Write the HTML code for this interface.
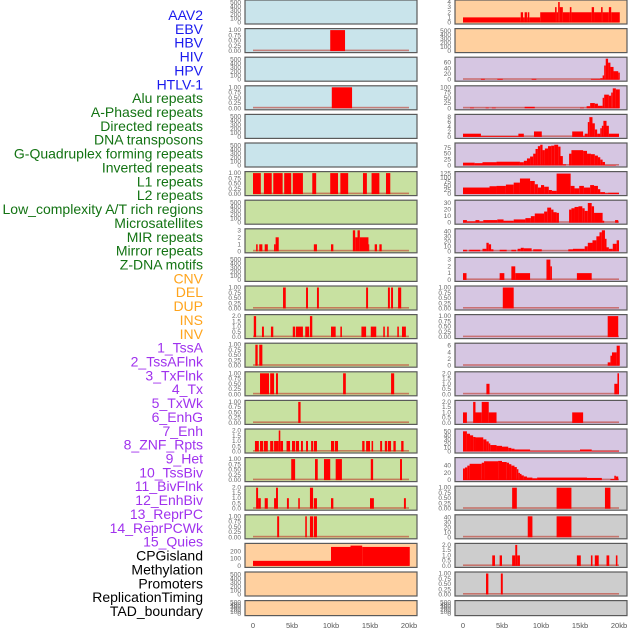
<!DOCTYPE html>
<html><head><meta charset="utf-8">
<style>
html,body{margin:0;padding:0;background:#fff;}
svg{display:block;font-family:"Liberation Sans",sans-serif;}
</style></head>
<body>
<svg id="chart" width="630" height="630" viewBox="0 0 630 630" xmlns="http://www.w3.org/2000/svg"></svg>
<script>
const trackLabels = ["AAV2","EBV","HBV","HIV","HPV","HTLV-1","Alu repeats","A-Phased repeats","Directed repeats","DNA transposons","G-Quadruplex forming repeats","Inverted repeats","L1 repeats","L2 repeats","Low_complexity A/T rich regions","Microsatellites","MIR repeats","Mirror repeats","Z-DNA motifs","CNV","DEL","DUP","INS","INV","1_TssA","2_TssAFlnk","3_TxFlnk","4_Tx","5_TxWk","6_EnhG","7_Enh","8_ZNF_Rpts","9_Het","10_TssBiv","11_BivFlnk","12_EnhBiv","13_ReprPC","14_ReprPCWk","15_Quies","CPGisland","Methylation","Promoters","ReplicationTiming","TAD_boundary"];
const labelGroups = ["virus","virus","virus","virus","virus","virus","repeat","repeat","repeat","repeat","repeat","repeat","repeat","repeat","repeat","repeat","repeat","repeat","repeat","sv","sv","sv","sv","sv","chrom","chrom","chrom","chrom","chrom","chrom","chrom","chrom","chrom","chrom","chrom","chrom","chrom","chrom","chrom","other","other","other","other","other"];
const xTickValues = [0,5,10,15,20];
const xTickLabels = ["0","5kb","10kb","15kb","20kb"];
const T500 = [0,100,200,300,400,500];
const T1 = [0,0.25,0.5,0.75,1];
const T2 = [0,0.5,1,1.5,2];
const panelYmax = [520,1,520,1,520,520,1,520,3,520,1,2,1,1,1,2,1,2,1,290,520,520,
  4.1,520,74,100,8.5,89,128,32,42,3.1,1,1,6.3,2,2,52,58,1,42,2,1,520];
const panelTicks = [T500,T1,T500,T1,T500,T500,T1,T500,[0,1,2,3],T500,T1,T2,T1,T1,T1,T2,T1,T2,T1,[0,100,200],T500,T500,
  [0,1,2,3,4],T500,[0,20,40,60],[0,25,50,75,100],[0,2,4,6,8],[0,25,50,75],[0,25,50,75,100,125],[0,10,20,30],[0,10,20,30,40],[0,1,2,3],T1,T1,[0,2,4,6],T2,T2,[0,10,20,30,40,50],[0,20,40],T1,[0,10,20,30,40],T2,T1,T500];
const panelSegments = [
 [],
 [[9.9,11.8,1]],
 [],
 [[10.1,12.7,1]],
 [],
 [],
 [[0,1.0,1],[1.4,2.4,1],[2.6,3.8,1],[4.0,4.9,1],[5.1,6.4,1],[7.6,8.1,1],[9.9,10.9,1],[11.2,12.2,1],[14.1,14.6,1],[15.2,16.2,1],[17.05,17.6,1]],
 [],
 [[0.4,0.6,1],[0.8,1.2,1],[1.5,1.9,1],[2.7,2.9,1],[2.9,3.3,2],[7.8,8.2,1],[10.0,10.3,1],[12.8,13.1,3],[13.1,13.4,2],[13.4,13.7,3],[13.7,14.8,2],[14.8,14.9,1],[15.6,15.9,1],[16.2,16.5,1]],
 [],
 [[3.85,4.2,1],[6.8,7.05,1],[8.2,8.45,1],[14.5,14.75,1],[17.3,17.55,1],[17.7,17.95,1],[18.6,19.0,1]],
 [[0.1,0.4,2],[1.15,1.4,1],[2.3,2.6,1],[5.1,5.4,1],[5.5,6.4,1],[6.7,7.2,1],[7.3,7.6,2],[10.0,10.6,1],[11.2,11.4,1],[13.9,14.5,1],[15.1,15.8,1],[16.7,16.9,1],[17.2,17.4,1],[18.5,18.7,1],[19.1,19.6,1]],
 [[0.3,0.6,1],[0.8,1.2,1]],
 [[0.9,2.05,1],[2.2,2.7,1],[2.95,3.2,1],[11.55,11.9,1],[17.7,18.1,1]],
 [[5.8,6.1,1]],
 [[0.25,0.75,1],[0.9,1.3,1],[1.4,1.9,1],[2.2,2.6,1],[2.7,3.3,1],[3.3,3.5,2],[3.5,3.85,1],[4.3,4.75,1],[5.0,5.4,1],[5.5,5.9,1],[6.15,6.4,1],[6.8,7.05,1],[7.45,7.7,1],[7.8,8.2,1],[10.0,10.4,1],[10.5,10.9,1],[14.0,14.3,1],[14.5,15.0,1],[15.2,15.4,1],[16.3,16.55,1],[16.9,17.2,1],[17.3,17.7,1],[18.0,18.3,1],[19.0,19.3,1]],
 [[4.9,5.4,1],[7.95,8.3,1],[9.1,9.9,1],[10.6,11.4,1],[15.1,15.4,1],[18.85,19.1,1]],
 [[0.4,0.65,2],[0.65,1.0,1],[1.5,1.9,1],[2.7,2.95,1],[2.95,3.2,2],[4.35,4.6,1],[5.8,6.0,1],[7.3,7.7,2],[7.8,8.2,1],[10.0,10.3,1],[15.0,15.5,1],[19.35,19.6,1]],
 [[3.1,3.35,1],[6.7,6.9,1],[7.3,7.7,1],[7.8,8.2,1]],
 [[0,10.0,70],[10.0,12.5,262],[12.5,14.0,280],[14.0,20.1,262]],
 [],
 [],
 [[0,7.4,1],[7.4,7.7,2],[7.7,7.9,1],[7.9,8.2,2],[8.2,8.3,1],[8.3,8.5,2],[8.5,9.9,1],[9.9,11.8,2],[11.8,12.0,3],[12.0,12.2,2],[12.2,12.4,4],[12.4,12.8,3],[12.8,13.7,2],[13.7,13.9,3],[13.9,16.5,2],[16.5,16.8,3],[16.8,17.7,2],[17.7,17.9,3],[17.9,18.7,2],[18.7,19.0,3],[19.0,20.1,2]],
 [],
 [[2.3,2.8,3],[4.4,5.1,3],[8.8,9.4,3],[16.4,17.6,3],[17.6,17.9,5],[17.9,18.1,15],[18.1,18.3,50],[18.3,18.6,74],[18.6,18.9,60],[18.9,19.3,45],[19.3,19.9,30],[19.9,20.1,25]],
 [[0.9,1.4,3],[2.9,3.3,3],[3.7,4.2,3],[7.9,9.2,7],[15.0,15.5,3],[15.85,16.3,10],[16.3,16.9,25],[16.9,17.3,22],[17.3,17.9,12],[17.9,18.1,50],[18.1,18.7,65],[18.7,19.0,60],[19.0,19.2,75],[19.2,19.6,95],[19.6,20.1,90]],
 [[0,2.3,1.3],[2.3,7.1,0.3],[7.1,7.8,1.3],[9.1,10.1,2.2],[14.0,15.4,2.2],[15.4,15.6,0.3],[15.6,16.0,1.3],[16.0,16.2,6],[16.2,16.6,8],[16.6,16.9,5.5],[16.9,17.2,3],[17.2,17.6,1.3],[17.6,17.8,3.5],[17.8,18.0,4.5],[18.0,18.4,6.5],[18.4,18.7,4.5],[18.7,20.0,1.3]],
 [[0,1.5,12],[1.5,2.5,10],[2.5,4.3,14],[4.3,7.3,16],[7.3,7.8,14],[7.8,8.2,20],[8.2,8.6,30],[8.6,9.0,38],[9.0,9.3,50],[9.3,9.6,70],[9.6,9.9,82],[9.9,10.2,88],[10.2,10.5,65],[10.5,10.9,72],[10.9,11.3,82],[11.3,11.7,84],[11.7,12.2,88],[12.2,12.5,80],[12.5,12.8,40],[12.8,13.2,5],[13.6,13.9,50],[13.9,15.4,65],[15.4,15.9,62],[15.9,16.4,50],[16.4,16.9,48],[16.9,17.3,42],[17.3,17.6,35],[17.6,17.9,25],[17.9,18.2,15],[18.2,19.6,2]],
 [[0,3.4,40],[3.4,4.3,48],[4.3,5.5,50],[5.5,6.5,58],[6.5,7.3,70],[7.3,8.6,95],[8.6,9.2,80],[9.2,9.6,60],[9.6,10.0,40],[10.0,10.4,55],[10.4,11.0,45],[11.0,11.4,25],[11.4,12.0,20],[12.0,13.8,125],[13.8,14.3,50],[14.3,14.9,35],[14.9,15.5,50],[15.5,16.3,40],[16.3,16.8,55],[16.8,17.3,50],[17.3,17.6,30],[17.6,18.2,12],[18.2,18.6,5],[18.6,20.0,8]],
 [[0,0.5,4],[0.5,1.6,2],[1.6,2.1,4],[2.1,2.6,2],[2.6,4.4,4],[4.4,5.2,5],[5.2,6.5,3],[6.5,8.0,5],[8.0,8.7,7],[8.7,9.2,10],[9.2,10.4,14],[10.4,10.8,17],[10.8,11.3,23],[11.3,11.6,20],[11.6,12.0,16],[12.0,12.3,15],[13.6,13.9,20],[13.9,14.3,22],[14.3,14.8,24],[14.8,15.3,25],[15.3,15.6,22],[15.6,16.0,18],[16.0,16.5,30],[16.5,16.8,25],[16.8,17.9,15],[17.9,18.1,3],[19.5,19.9,4]],
 [[0,0.5,3],[0.8,2.2,3],[2.5,3.0,5],[3.0,3.3,17],[3.3,3.6,14],[3.6,3.9,4],[4.7,5.6,3],[6.2,6.8,3],[7.0,7.4,5],[7.4,7.8,7],[7.8,8.8,6],[9.0,10.1,4],[13.5,14.1,4],[14.1,15.6,5],[15.6,16.0,10],[16.0,16.6,17],[16.6,17.1,22],[17.1,17.5,30],[17.5,17.8,38],[17.8,18.2,42],[18.2,18.4,25],[18.4,18.7,8],[18.7,19.2,5],[19.2,19.7,15],[19.7,20.0,22]],
 [[0,0.45,1],[4.7,5.3,1],[6.2,6.7,2],[6.7,8.6,1],[10.7,11.2,3],[11.2,11.4,2],[14.6,16.5,1]],
 [[5.1,6.5,1]],
 [[18.55,19.9,1]],
 [[18.55,18.9,1],[18.9,19.1,3],[19.1,19.7,4],[19.7,20.1,6]],
 [[3.0,3.4,1],[19.4,19.8,1],[19.8,20.0,2]],
 [[0,0.5,1],[1.3,1.6,2],[1.6,2.4,1],[2.4,3.3,2],[3.3,4.3,1],[14.0,15.4,1]],
 [[0,0.5,50],[0.5,0.9,44],[0.9,1.3,40],[1.3,1.6,36],[1.6,2.6,35],[2.6,3.0,30],[3.0,3.3,25],[3.3,3.5,20],[3.5,4.3,16],[4.3,5.0,14],[5.0,5.8,12],[5.8,6.2,9],[6.2,6.6,7],[6.6,8.6,5],[8.6,15.0,1],[15.0,16.5,5],[16.5,20.0,1]],
 [[0,0.25,32],[0.25,0.55,35],[0.55,0.85,40],[0.85,2.4,45],[2.4,2.7,48],[2.7,4.5,52],[4.5,5.0,53],[5.0,5.6,50],[5.6,5.9,48],[5.9,6.2,44],[6.2,6.6,40],[6.6,6.9,36],[6.9,7.1,30],[7.1,7.3,20],[7.3,7.5,17],[7.5,7.8,13],[7.8,8.2,10],[8.2,8.9,7],[8.9,9.5,5],[9.5,15.9,7],[15.9,17.8,6],[18.9,19.4,3],[19.4,19.6,12],[19.6,19.9,10]],
 [[6.3,6.9,1],[12.0,13.9,1],[18.2,18.9,1]],
 [[8.3,8.9,42],[12.0,13.9,42]],
 [[3.75,4.1,1],[4.7,5.0,1],[6.3,6.7,1],[6.7,6.95,2],[6.95,7.3,1],[14.6,15.1,1],[16.4,16.6,1],[16.9,17.4,1],[18.4,18.75,1],[19.6,19.8,1]],
 [[2.95,3.25,1],[4.85,5.1,1]],
 []
];

const NS = "http://www.w3.org/2000/svg";
const svg = document.getElementById("chart");
const groupColor = {virus:"#1a1aee",repeat:"#137313",sv:"#ffa41c",chrom:"#a032ee",other:"#000"};
const bgColor = {virus:"#c9e4eb",repeat:"#c8e1a1",sv:"#ffd09f",chrom:"#d6c6e2",other:"#cdcdcd"};
const ROWS = 22, PITCH = 28.6, PH = 24;
const colX = [245, 455];
const PW = 172;
function xScale(col, kb){ return colX[col] + 8 + kb * 7.8; }
function yScale(py, h, ymax, v){ const top = py + 1.5, bot = py + h - 1.5; return bot - (v / ymax) * (bot - top); }
function el(tag, attrs){ const e = document.createElementNS(NS, tag); for (const k in attrs) e.setAttribute(k, attrs[k]); svg.appendChild(e); return e; }
function fmt(t, ticks){ const dec = ticks.some(v => v % 1 !== 0); if (!dec) return String(t); return ticks[ticks.length-1] === 1 ? t.toFixed(2) : t.toFixed(1); }

// labels
const lblTop = 15, lblPitch = 13.86;
trackLabels.forEach((name, i) => {
  const t = el("text", {x:203, y:(lblTop + i*lblPitch + 5).toFixed(1), "text-anchor":"end", "font-size":"14", fill:groupColor[labelGroups[i]]});
  t.textContent = name;
  
  
});

// panels
for (let i = 0; i < 44; i++) {
  const col = i < ROWS ? 0 : 1;
  const row = i % ROWS;
  const py = row * PITCH;
  const h = row === ROWS - 1 ? 15 : PH;
  const grp = labelGroups[i];
  const slug = trackLabels[i].toLowerCase().replace(/[^a-z0-9]+/g,'-');
  const bg = el("rect", {x:colX[col], y:py.toFixed(1), width:PW, height:h, fill:bgColor[grp], stroke:"#5a5a5a", "stroke-width":"1.2"});
  
  
  const ymax = panelYmax[i];
  panelTicks[i].forEach(t => {
    const tx = el("text", {x:colX[col] - 4, y:(yScale(py, h, ymax, t) + 2).toFixed(1), "text-anchor":"end", "font-size":"6.5", fill:"#666"});
    tx.textContent = fmt(t, panelTicks[i]);
    
    
  });
  const segs = panelSegments[i];
  if (segs.length) {
    const bl = el("rect", {x:xScale(col,0).toFixed(1), y:(py + h - 3).toFixed(1), width:(xScale(col,20)-xScale(col,0)).toFixed(1), height:1.6, fill:"#c0392b", opacity:"0.6"});
    
    
  }
  segs.forEach(s => {
    const x0 = xScale(col, s[0]), x1 = xScale(col, s[1]);
    const y = yScale(py, h, ymax, s[2]), y0 = yScale(py, h, ymax, 0);
    const r = el("rect", {x:x0.toFixed(2), y:y.toFixed(2), width:Math.max(0.8, x1 - x0).toFixed(2), height:Math.max(0.5, y0 - y).toFixed(2), fill:"#ff0000"});
    
    
  });
}

// x axes
[0,1].forEach(col => {
  xTickValues.forEach((v, j) => {
    const t = el("text", {x:xScale(col, v).toFixed(1), y:628, "text-anchor":"middle", "font-size":"7.5", fill:"#555"});
    t.textContent = xTickLabels[j];
    
    
  });
});
</script>
</body></html>
